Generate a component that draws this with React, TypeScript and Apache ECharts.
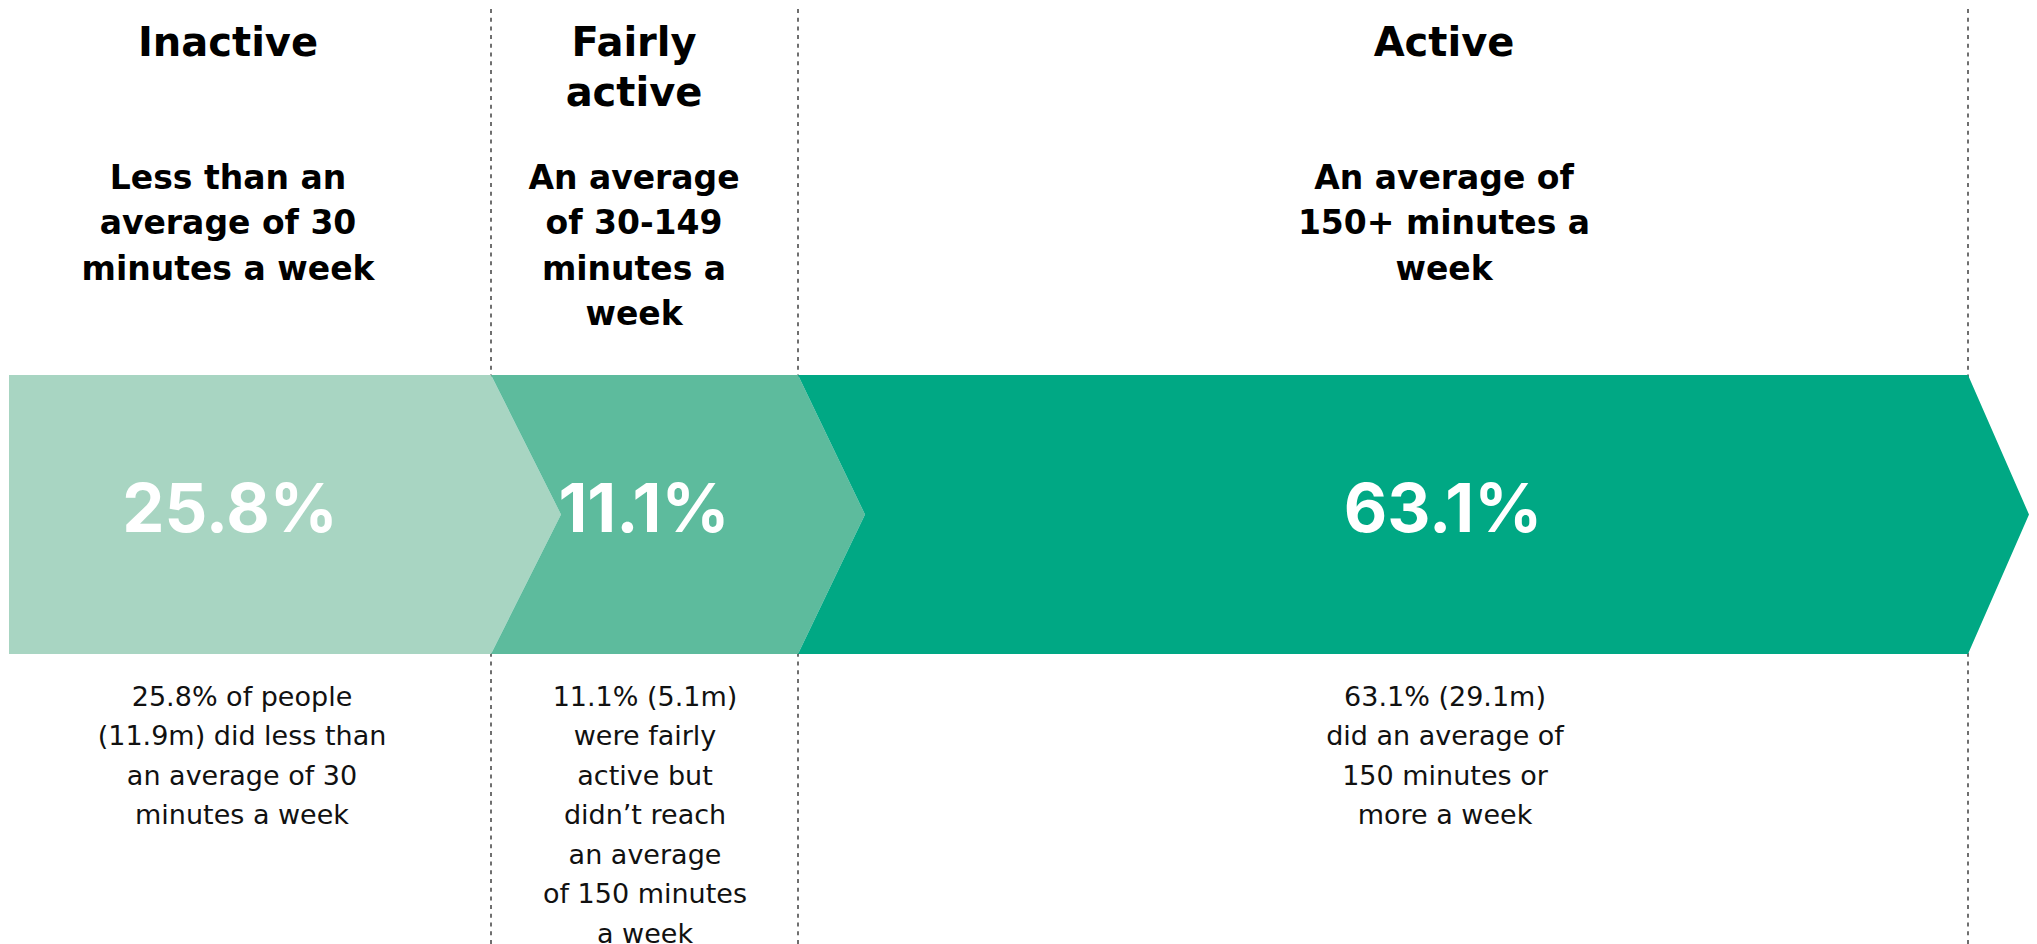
import { useEffect, useRef } from "react";
import * as echarts from "echarts";

// ---------- data ----------
const CATEGORIES = ["Inactive", "Fairly active", "Active"];
const TITLE_LINES = [["Inactive"], ["Fairly", "active"], ["Active"]];
const SUBTITLE_LINES = [
  ["Less than an", "average of 30", "minutes a week"],
  ["An average", "of 30-149", "minutes a", "week"],
  ["An average of", "150+ minutes a", "week"],
];
const PERCENTS = [25.8, 11.1, 63.1];
const MILLIONS = [11.9, 5.1, 29.1];
const DESC_TAIL = [
  ["an average of 30", "minutes a week"],
  ["were fairly", "active but", "didn\u2019t reach", "an average", "of 150 minutes", "a week"],
  ["did an average of", "150 minutes or", "more a week"],
];
const COLORS = ["#A8D5C2", "#5DBB9D", "#00A884"];

function descLines(i: number): string[] {
  const p = PERCENTS[i];
  const m = MILLIONS[i];
  if (i === 0) return [`${p}% of people`, `(${m}m) did less than`, ...DESC_TAIL[i]];
  return [`${p}% (${m}m)`, ...DESC_TAIL[i]];
}

// ---------- layout ----------
const W = 2037;
const H = 944;
const BAND_TOP = 375;
const BAND_BOTTOM = 654;
const SEG_EDGES = [9, 491, 798, 1968];
const TIP_DEPTH = [70, 67, 61];
const TITLE_CX = [228, 634, 1444];
const PCT_CX = [230, 644, 1443];
const DESC_CX = [242, 645, 1445];
const TITLE_Y0 = 42;
const TITLE_LH = 50;
const SUB_Y0 = 177;
const SUB_LH = 45.5;
const PCT_Y = 507;
const DESC_Y0 = 696;
const DESC_LH = 39.5;
const DASH_TOP = 9;

const HEAD_FONT = "'DejaVu Sans', sans-serif";
const PCT_FONT = "Inter, 'DejaVu Sans', sans-serif";

function txt(api: any, x: number, y: number, text: string, size: number, weight: any, fill: string, family: string) {
  const p = api.coord([x, y]);
  return {
    type: "text",
    x: p[0],
    y: p[1],
    style: {
      text,
      fill,
      fontSize: size,
      fontWeight: weight,
      fontFamily: family,
      textAlign: "center",
      textVerticalAlign: "middle",
    },
  };
}

export default function App() {
  const ref = useRef<HTMLDivElement>(null);
  useEffect(() => {
    const chart = echarts.init(ref.current!, null, { renderer: "svg" });
    chart.setOption({
      animation: false,
      backgroundColor: "#ffffff",
      grid: { left: 0, right: 0, top: 0, bottom: 0 },
      xAxis: { type: "value", min: 0, max: W, show: false },
      yAxis: { type: "value", min: 0, max: H, inverse: true, show: false },
      series: [
        {
          type: "custom",
          z: 1,
          silent: true,
          data: SEG_EDGES.slice(1).map((_, i) => [i]),
          renderItem: (params: any, api: any) => {
            const i = api.value(0);
            const x = SEG_EDGES[i + 1];
            const a = api.coord([x, DASH_TOP]);
            const b = api.coord([x, H]);
            return {
              type: "line",
              shape: { x1: a[0], y1: a[1], x2: b[0], y2: b[1] },
              style: { stroke: "#6f6f6f", lineWidth: 2, lineDash: [4, 4.7] },
            };
          },
        },
        {
          type: "custom",
          name: "Activity levels",
          z: 2,
          silent: true,
          data: PERCENTS.map((v, i) => [i, v]),
          renderItem: (params: any, api: any) => {
            const i = api.value(0);
            const v = api.value(1);
            const x0 = SEG_EDGES[i];
            const x1 = SEG_EDGES[i + 1];
            const mid = (BAND_TOP + BAND_BOTTOM) / 2;
            const pts: number[][] = [
              [x0, BAND_TOP],
              [x1, BAND_TOP],
              [x1 + TIP_DEPTH[i], mid],
              [x1, BAND_BOTTOM],
              [x0, BAND_BOTTOM],
            ];
            if (i > 0) pts.push([x0 + TIP_DEPTH[i - 1], mid]);
            const children: any[] = [
              {
                type: "polygon",
                shape: { points: pts.map((p) => api.coord(p)) },
                style: { fill: COLORS[i] },
              },
              txt(api, PCT_CX[i], PCT_Y, `${v}%`, 67, 700, "#ffffff", PCT_FONT),
            ];
            TITLE_LINES[i].forEach((t, k) =>
              children.push(txt(api, TITLE_CX[i], TITLE_Y0 + k * TITLE_LH, t, 40, "bold", "#000000", HEAD_FONT))
            );
            SUBTITLE_LINES[i].forEach((t, k) =>
              children.push(txt(api, TITLE_CX[i], SUB_Y0 + k * SUB_LH, t, 33, "bold", "#000000", HEAD_FONT))
            );
            descLines(i).forEach((t, k) =>
              children.push(txt(api, DESC_CX[i], DESC_Y0 + k * DESC_LH, t, 27, "normal", "#111111", HEAD_FONT))
            );
            return { type: "group", children };
          },
        },
      ],
    });
    return () => chart.dispose();
  }, []);
  return (
    <div
      ref={ref}
      aria-label={CATEGORIES.join(", ")}
      style={{ position: "absolute", left: 0, top: 0, width: W, height: H, background: "#fff" }}
    />
  );
}
